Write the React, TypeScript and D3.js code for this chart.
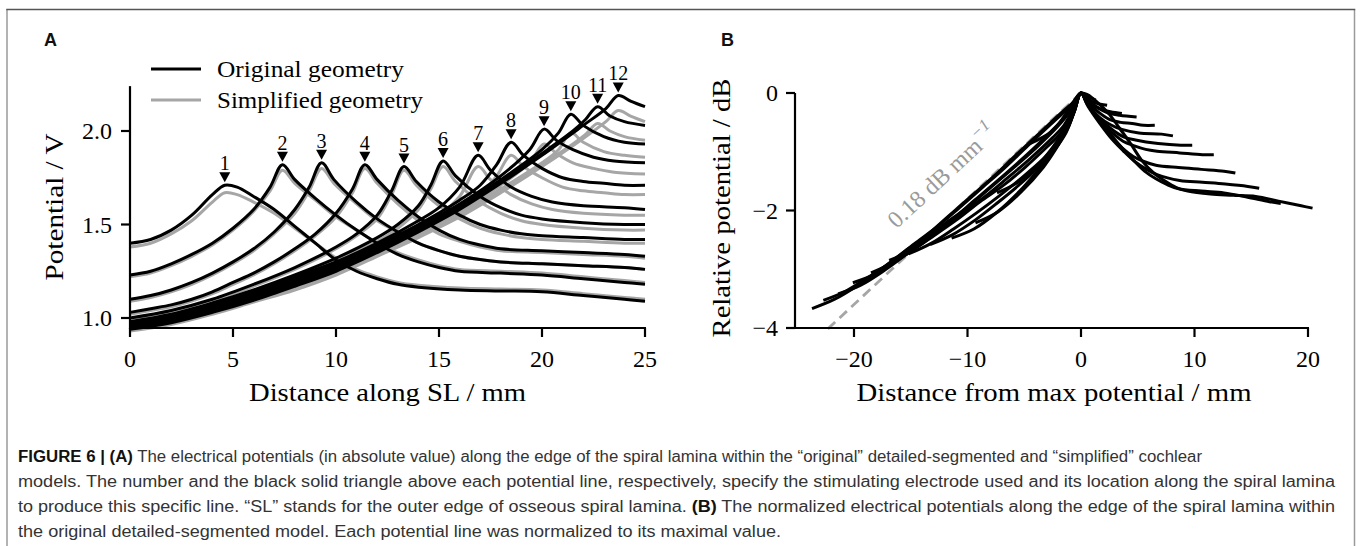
import React from 'react';
import * as d3 from 'd3';

const W = 1360;
const H = 546;

// ---------- Panel A data: potential (V) along SL (mm) ----------
const electrodeLabels = ['1', '2', '3', '4', '5', '6', '7', '8', '9', '10', '11', '12'];
const peakX = [4.6, 7.4, 9.3, 11.4, 13.3, 15.2, 16.9, 18.5, 20.1, 21.4, 22.7, 23.7];
const peakV = [1.71, 1.82, 1.83, 1.82, 1.81, 1.84, 1.87, 1.94, 2.01, 2.09, 2.13, 2.19];

const a1X = [0, 1, 2, 3, 4, 4.6, 5.2, 6, 7, 8, 9, 10, 11, 12, 13, 14, 16, 18, 20, 22, 24, 25];
const a1Orig = [1.40, 1.42, 1.47, 1.55, 1.66, 1.71, 1.70, 1.65, 1.58, 1.49, 1.40, 1.31, 1.25, 1.21, 1.18, 1.165, 1.15, 1.145, 1.14, 1.12, 1.10, 1.09];
const a1Simp = [1.38, 1.40, 1.45, 1.52, 1.62, 1.67, 1.66, 1.62, 1.56, 1.48, 1.40, 1.32, 1.26, 1.22, 1.19, 1.175, 1.16, 1.155, 1.15, 1.13, 1.11, 1.10];

const a2X = [0, 1, 2, 3, 4, 5, 6, 6.8, 7.4, 8, 9, 10, 11, 12, 13, 14, 15, 16, 18, 20, 22, 24, 25];
const a2Orig = [1.23, 1.25, 1.29, 1.34, 1.40, 1.48, 1.58, 1.70, 1.82, 1.74, 1.64, 1.55, 1.47, 1.40, 1.34, 1.30, 1.27, 1.25, 1.24, 1.23, 1.21, 1.19, 1.18];
const a2Simp = [1.22, 1.24, 1.28, 1.33, 1.39, 1.47, 1.57, 1.68, 1.79, 1.72, 1.63, 1.54, 1.47, 1.40, 1.35, 1.31, 1.28, 1.26, 1.25, 1.24, 1.22, 1.20, 1.19];

const a3X = [0, 1, 2, 3, 4, 5, 6, 7, 8, 8.7, 9.3, 9.9, 11, 12, 13, 14, 15, 16, 18, 20, 22, 24, 25];
const a3Orig = [1.10, 1.12, 1.15, 1.19, 1.24, 1.30, 1.37, 1.46, 1.58, 1.70, 1.83, 1.74, 1.62, 1.53, 1.46, 1.40, 1.36, 1.33, 1.30, 1.29, 1.28, 1.27, 1.26];
const a3Simp = [1.09, 1.11, 1.14, 1.18, 1.23, 1.29, 1.36, 1.45, 1.56, 1.68, 1.80, 1.72, 1.61, 1.52, 1.46, 1.40, 1.36, 1.33, 1.30, 1.29, 1.28, 1.27, 1.26];

const a4X = [0, 1, 2, 3, 4, 5, 6, 7, 8, 9, 10, 10.8, 11.4, 12, 13, 14, 15, 16, 17, 18, 20, 22, 24, 25];
const a4Orig = [1.03, 1.05, 1.07, 1.10, 1.14, 1.19, 1.24, 1.30, 1.37, 1.45, 1.56, 1.69, 1.82, 1.74, 1.63, 1.54, 1.47, 1.42, 1.39, 1.37, 1.36, 1.35, 1.34, 1.33];
const a4Simp = [1.02, 1.04, 1.06, 1.09, 1.13, 1.18, 1.23, 1.29, 1.36, 1.44, 1.54, 1.67, 1.80, 1.72, 1.61, 1.52, 1.45, 1.41, 1.38, 1.36, 1.35, 1.34, 1.33, 1.32];

const a5X = [0, 2, 4, 6, 8, 10, 11, 12, 12.7, 13.3, 13.9, 15, 16, 17, 18, 19, 20, 22, 24, 25];
const a5Orig = [1.00, 1.04, 1.10, 1.18, 1.27, 1.38, 1.45, 1.55, 1.68, 1.81, 1.73, 1.62, 1.55, 1.50, 1.47, 1.45, 1.44, 1.43, 1.42, 1.42];
const a5Simp = [0.99, 1.03, 1.09, 1.17, 1.26, 1.37, 1.44, 1.53, 1.66, 1.79, 1.71, 1.60, 1.53, 1.48, 1.45, 1.43, 1.42, 1.41, 1.40, 1.40];

const a6X = [0, 2, 4, 6, 8, 10, 12, 13, 14, 14.6, 15.2, 15.8, 17, 18, 19, 20, 22, 24, 25];
const a6Orig = [0.98, 1.02, 1.08, 1.15, 1.23, 1.32, 1.43, 1.50, 1.60, 1.71, 1.84, 1.76, 1.65, 1.59, 1.55, 1.53, 1.51, 1.50, 1.50];
const a6Simp = [0.97, 1.01, 1.07, 1.14, 1.22, 1.31, 1.41, 1.48, 1.58, 1.69, 1.81, 1.73, 1.62, 1.56, 1.52, 1.50, 1.48, 1.47, 1.47];

const a7X = [0, 2, 4, 6, 8, 10, 12, 14, 15, 16, 16.9, 17.5, 18.5, 19.5, 20.5, 22, 24, 25];
const a7Orig = [0.97, 1.01, 1.07, 1.14, 1.22, 1.30, 1.40, 1.52, 1.59, 1.70, 1.87, 1.79, 1.70, 1.65, 1.62, 1.60, 1.59, 1.58];
const a7Simp = [0.96, 1.00, 1.06, 1.13, 1.21, 1.28, 1.38, 1.49, 1.55, 1.65, 1.81, 1.74, 1.66, 1.61, 1.58, 1.56, 1.55, 1.55];

const a8X = [0, 2, 4, 6, 8, 10, 12, 14, 16, 17, 17.8, 18.5, 19.1, 20, 21, 22, 23, 24, 25];
const a8Orig = [0.96, 1.00, 1.06, 1.13, 1.21, 1.29, 1.39, 1.50, 1.63, 1.71, 1.82, 1.94, 1.87, 1.80, 1.75, 1.73, 1.72, 1.71, 1.71];
const a8Simp = [0.95, 0.99, 1.05, 1.12, 1.20, 1.27, 1.37, 1.47, 1.59, 1.66, 1.76, 1.87, 1.81, 1.75, 1.70, 1.68, 1.67, 1.66, 1.66];

const a9X = [0, 2, 4, 6, 8, 10, 12, 14, 16, 18, 19.4, 20.1, 20.7, 21.5, 22.5, 23.5, 25];
const a9Orig = [0.955, 0.99, 1.05, 1.12, 1.20, 1.28, 1.38, 1.49, 1.61, 1.76, 1.90, 2.01, 1.95, 1.90, 1.86, 1.84, 1.83];
const a9Simp = [0.945, 0.98, 1.04, 1.11, 1.18, 1.26, 1.36, 1.46, 1.57, 1.71, 1.83, 1.93, 1.88, 1.83, 1.80, 1.78, 1.77];

const a10X = [0, 2, 4, 6, 8, 10, 12, 14, 16, 18, 20, 20.8, 21.4, 22, 23, 24, 25];
const a10Orig = [0.95, 0.985, 1.04, 1.11, 1.19, 1.27, 1.37, 1.48, 1.60, 1.74, 1.90, 1.99, 2.09, 2.03, 1.97, 1.94, 1.93];
const a10Simp = [0.94, 0.975, 1.03, 1.10, 1.17, 1.25, 1.35, 1.45, 1.56, 1.69, 1.83, 1.90, 1.99, 1.94, 1.89, 1.87, 1.86];

const a11X = [0, 2, 4, 6, 8, 10, 12, 14, 16, 18, 20, 21.5, 22.1, 22.7, 23.3, 24, 25];
const a11Orig = [0.945, 0.98, 1.035, 1.10, 1.18, 1.26, 1.36, 1.47, 1.59, 1.73, 1.88, 2.00, 2.06, 2.13, 2.08, 2.05, 2.03];
const a11Simp = [0.935, 0.97, 1.025, 1.09, 1.16, 1.24, 1.34, 1.44, 1.55, 1.68, 1.82, 1.93, 1.98, 2.04, 2.00, 1.97, 1.95];

const a12X = [0, 2, 4, 6, 8, 10, 12, 14, 16, 18, 20, 22, 23.1, 23.7, 24.3, 25];
const a12Orig = [0.94, 0.975, 1.03, 1.095, 1.17, 1.25, 1.35, 1.46, 1.58, 1.72, 1.87, 2.03, 2.12, 2.19, 2.16, 2.13];
const a12Simp = [0.93, 0.965, 1.02, 1.085, 1.15, 1.23, 1.33, 1.43, 1.54, 1.67, 1.81, 1.96, 2.05, 2.11, 2.08, 2.05];

// ---------- Panel B data: relative potential (dB) vs distance from max (mm) ----------
const b1X = [-4.6, -2.6, -1.6, -0.6, 0, 0.6, 1.4, 2.4, 3.4, 4.4, 5.4, 6.4, 7.4, 8.4, 9.4, 11.4, 13.4, 15.4, 17.4, 19.4, 20.4];
const b1Y = [-0.87, -0.66, -0.43, -0.13, 0, -0.03, -0.15, -0.34, -0.60, -0.87, -1.16, -1.36, -1.50, -1.61, -1.67, -1.72, -1.74, -1.76, -1.84, -1.92, -1.96];
const b2X = [-7.4, -5.4, -3.4, -2.4, -1.4, -0.6, 0, 0.6, 1.6, 2.6, 3.6, 4.6, 5.6, 6.6, 7.6, 8.6, 10.6, 12.6, 14.6, 16.6, 17.6];
const b2Y = [-1.70, -1.50, -1.14, -0.90, -0.61, -0.30, 0, -0.20, -0.45, -0.70, -0.93, -1.14, -1.33, -1.46, -1.56, -1.63, -1.67, -1.70, -1.77, -1.85, -1.88];
const b3X = [-9.3, -7.3, -5.3, -3.3, -2.3, -1.3, -0.6, 0, 0.6, 1.7, 2.7, 3.7, 4.7, 5.7, 6.7, 8.7, 10.7, 12.7, 14.7, 15.7];
const b3Y = [-2.21, -2.02, -1.69, -1.26, -0.98, -0.64, -0.32, 0, -0.22, -0.53, -0.78, -0.98, -1.16, -1.29, -1.39, -1.49, -1.52, -1.55, -1.59, -1.62];
const b4X = [-11.4, -9.4, -7.4, -5.4, -3.4, -2.4, -1.4, -0.6, 0, 0.6, 1.6, 2.6, 3.6, 4.6, 5.6, 6.6, 8.6, 10.6, 12.6, 13.6];
const b4Y = [-2.47, -2.31, -2.03, -1.67, -1.23, -0.99, -0.67, -0.32, 0, -0.20, -0.48, -0.73, -0.93, -1.08, -1.17, -1.23, -1.27, -1.30, -1.33, -1.36];
const b5X = [-13.3, -11.3, -9.3, -7.3, -5.3, -3.3, -2.3, -1.3, -0.6, 0, 0.6, 1.7, 2.7, 3.7, 4.7, 5.7, 6.7, 8.7, 10.7, 11.7];
const b5Y = [-2.58, -2.41, -2.16, -1.86, -1.54, -1.18, -0.96, -0.67, -0.32, 0, -0.20, -0.48, -0.67, -0.82, -0.90, -0.96, -0.99, -1.02, -1.05, -1.05];
const b6X = [-15.2, -13.2, -11.2, -9.2, -7.2, -5.2, -3.2, -2.2, -1.2, -0.6, 0, 0.6, 1.8, 2.8, 3.8, 4.8, 6.8, 8.8, 9.8];
const b6Y = [-2.74, -2.56, -2.31, -2.04, -1.75, -1.44, -1.10, -0.89, -0.61, -0.32, 0, -0.19, -0.47, -0.63, -0.75, -0.80, -0.86, -0.89, -0.89];
const b7X = [-16.9, -14.9, -12.9, -10.9, -8.9, -6.9, -4.9, -2.9, -1.9, -0.9, 0, 0.6, 1.6, 2.6, 3.6, 5.1, 7.1, 8.1];
const b7Y = [-2.85, -2.68, -2.42, -2.15, -1.85, -1.58, -1.26, -0.90, -0.71, -0.41, 0, -0.19, -0.41, -0.54, -0.62, -0.68, -0.70, -0.73];
const b8X = [-18.5, -16.5, -14.5, -12.5, -10.5, -8.5, -6.5, -4.5, -2.5, -1.5, -0.7, 0, 0.6, 1.5, 2.5, 3.5, 4.5, 5.5, 6.5];
const b8Y = [-3.06, -2.88, -2.63, -2.35, -2.05, -1.77, -1.45, -1.12, -0.76, -0.55, -0.28, 0, -0.16, -0.32, -0.45, -0.50, -0.52, -0.55, -0.55];
const b9X = [-20.1, -18.1, -16.1, -14.1, -12.1, -10.1, -8.1, -6.1, -4.1, -2.1, -0.7, 0, 0.6, 1.4, 2.4, 3.4, 4.9];
const b9Y = [-3.23, -3.08, -2.82, -2.54, -2.24, -1.96, -1.63, -1.30, -0.96, -0.58, -0.24, 0, -0.13, -0.24, -0.34, -0.38, -0.41];
const b10X = [-21.4, -19.4, -17.4, -15.4, -13.4, -11.4, -9.4, -7.4, -5.4, -3.4, -1.4, -0.6, 0, 0.6, 1.6, 2.6, 3.6];
const b10Y = [-3.42, -3.27, -3.03, -2.75, -2.45, -2.16, -1.83, -1.50, -1.16, -0.80, -0.41, -0.21, 0, -0.13, -0.26, -0.32, -0.35];
const b11X = [-22.7, -20.7, -18.7, -16.7, -14.7, -12.7, -10.7, -8.7, -6.7, -4.7, -2.7, -1.2, -0.6, 0, 0.6, 1.3, 2.3];
const b11Y = [-3.53, -3.37, -3.13, -2.87, -2.57, -2.28, -1.95, -1.61, -1.27, -0.90, -0.54, -0.27, -0.15, 0, -0.10, -0.17, -0.21];
const b12X = [-23.7, -21.7, -19.7, -17.7, -15.7, -13.7, -11.7, -9.7, -7.7, -5.7, -3.7, -1.7, -0.6, 0, 0.6, 1.3];
const b12Y = [-3.67, -3.51, -3.28, -3.01, -2.72, -2.44, -2.10, -1.76, -1.42, -1.05, -0.69, -0.33, -0.14, 0, -0.06, -0.12];

const slopeDbPerMm = 0.18;
const slopeLineX = [0, -22.5];

// ---------- ticks & labels ----------
const ticksAX = [0, 5, 10, 15, 20, 25];
const ticksAY = [1.0, 1.5, 2.0];
const ticksBX = [-20, -10, 0, 10, 20];
const ticksBY = [0, -2, -4];
const legendLabels = ['Original geometry', 'Simplified geometry'];
const legendWidths = [187, 206];

const captionLines = [
  [{ b: true, t: 'FIGURE 6 | (A)' }, { b: false, t: ' The electrical potentials (in absolute value) along the edge of the spiral lamina within the \u201Coriginal\u201D detailed-segmented and \u201Csimplified\u201D cochlear' }],
  [{ b: false, t: 'models. The number and the black solid triangle above each potential line, respectively, specify the stimulating electrode used and its location along the spiral lamina' }],
  [{ b: false, t: 'to produce this specific line. \u201CSL\u201D stands for the outer edge of osseous spiral lamina. ' }, { b: true, t: '(B)' }, { b: false, t: ' The normalized electrical potentials along the edge of the spiral lamina within' }],
  [{ b: false, t: 'the original detailed-segmented model. Each potential line was normalized to its maximal value.' }],
];
const captionWidths = [1184, 1317, 1317, 763];

const aX = [a1X, a2X, a3X, a4X, a5X, a6X, a7X, a8X, a9X, a10X, a11X, a12X];
const aOrig = [a1Orig, a2Orig, a3Orig, a4Orig, a5Orig, a6Orig, a7Orig, a8Orig, a9Orig, a10Orig, a11Orig, a12Orig];
const aSimp = [a1Simp, a2Simp, a3Simp, a4Simp, a5Simp, a6Simp, a7Simp, a8Simp, a9Simp, a10Simp, a11Simp, a12Simp];
const bX = [b1X, b2X, b3X, b4X, b5X, b6X, b7X, b8X, b9X, b10X, b11X, b12X];
const bY = [b1Y, b2Y, b3Y, b4Y, b5Y, b6Y, b7Y, b8Y, b9Y, b10Y, b11Y, b12Y];

const SERIF = '"Liberation Serif", "DejaVu Serif", serif';
const SANS = '"Liberation Sans", Arial, sans-serif';
const GRAY = '#a6a6a6';

export default function App() {
  // scales
  const xA = d3.scaleLinear().domain([0, 25]).range([130, 645]);
  const yA = d3.scaleLinear().domain([1.0, 2.0]).range([318, 131]);
  const xB = d3.scaleLinear().domain([-20, 20]).range([854, 1308]);
  const yB = d3.scaleLinear().domain([-4, 0]).range([328, 93]);

  const aBottom = 328;
  const aTop = yA(2.24);
  const bLeft = 795;

  const lineA = d3
    .line<[number, number]>()
    .x((d) => xA(d[0]))
    .y((d) => yA(d[1]))
    .curve(d3.curveCatmullRom.alpha(0.5));
  const lineB = d3
    .line<[number, number]>()
    .x((d) => xB(d[0]))
    .y((d) => yB(d[1]))
    .curve(d3.curveCatmullRom.alpha(0.5));

  const zip = (xs: number[], ys: number[]) => xs.map((x, i) => [x, ys[i]] as [number, number]);

  // slope annotation line
  const slopePts = slopeLineX.map((x) => [x, x * slopeDbPerMm] as [number, number]);
  const p0 = [xB(slopePts[0][0]), yB(slopePts[0][1])];
  const p1 = [xB(slopePts[1][0]), yB(slopePts[1][1])];
  const ang = (Math.atan2(p0[1] - p1[1], p0[0] - p1[0]) * 180) / Math.PI;
  const annX = -10.2;
  const annPt = [xB(annX), yB(annX * slopeDbPerMm)];
  const nrm = ((ang - 90) * Math.PI) / 180;
  const annPos = [annPt[0] + Math.cos(nrm) * 34, annPt[1] + Math.sin(nrm) * 34];

  const axisColor = '#000';
  const fmtB = (t: number) => (t < 0 ? `\u2212${Math.abs(t)}` : `${t}`);

  return (
    <svg
      width={W}
      height={H}
      viewBox={`0 0 ${W} ${H}`}
      style={{ position: 'absolute', left: 0, top: 0, background: '#fff' }}
    >
      <rect x={0} y={0} width={W} height={H} fill="#fff" />
      {/* frame */}
      <path d={`M7,${H + 2} L7,9.5`} fill="none" stroke="#9a9a9a" strokeWidth={1.5} />
      <path d={`M1354.5,${H + 2} L1354.5,9.5`} fill="none" stroke="#9a9a9a" strokeWidth={1.5} />
      <path d={`M6.25,9.5 L1355.25,9.5`} fill="none" stroke="#555" strokeWidth={1.5} />

      {/* panel letters */}
      <text x={44} y={46} fontFamily={SANS} fontWeight="bold" fontSize={18} fill="#111">A</text>
      <text x={721} y={46} fontFamily={SANS} fontWeight="bold" fontSize={18} fill="#111">B</text>

      {/* ===== Panel A ===== */}
      <g>
        {aSimp.map((ys, i) => (
          <path key={`s${i}`} d={lineA(zip(aX[i], ys)) || ''} fill="none" stroke={GRAY} strokeWidth={3} strokeLinejoin="round" />
        ))}
        {aOrig.map((ys, i) => (
          <path key={`o${i}`} d={lineA(zip(aX[i], ys)) || ''} fill="none" stroke="#000" strokeWidth={3} strokeLinejoin="round" />
        ))}
        {peakX.map((px, i) => {
          const cx = xA(px);
          const py = yA(peakV[i]);
          return (
            <g key={`m${i}`}>
              <path d={`M${cx - 5.5},${py - 13} L${cx + 5.5},${py - 13} L${cx},${py - 3} Z`} fill="#000" />
              <text x={cx} y={py - 15} textAnchor="middle" fontFamily={SERIF} fontSize={20} fill="#000">
                {electrodeLabels[i]}
              </text>
            </g>
          );
        })}
        {/* axes */}
        <line x1={xA(0)} x2={xA(0)} y1={aTop} y2={aBottom + 1} stroke={axisColor} strokeWidth={2.2} />
        <line x1={xA(0) - 1} x2={xA(25) + 1} y1={aBottom} y2={aBottom} stroke={axisColor} strokeWidth={2.2} />
        {ticksAY.map((t) => (
          <g key={`ay${t}`}>
            <line x1={xA(0) - 9} x2={xA(0)} y1={yA(t)} y2={yA(t)} stroke={axisColor} strokeWidth={2.2} />
            <text x={xA(0) - 18} y={yA(t) + 8} textAnchor="end" fontFamily={SERIF} fontSize={24} fill="#000">
              {t.toFixed(1)}
            </text>
          </g>
        ))}
        {ticksAX.map((t) => (
          <g key={`ax${t}`}>
            <line x1={xA(t)} x2={xA(t)} y1={aBottom} y2={aBottom + 9} stroke={axisColor} strokeWidth={2.2} />
            <text x={xA(t)} y={aBottom + 39} textAnchor="middle" fontFamily={SERIF} fontSize={24} fill="#000">
              {t}
            </text>
          </g>
        ))}
        <text
          x={(xA(0) + xA(25)) / 2}
          y={aBottom + 73}
          textAnchor="middle"
          fontFamily={SERIF}
          fontSize={25}
          fill="#000"
          textLength={277}
          lengthAdjust="spacingAndGlyphs"
        >
          Distance along SL / mm
        </text>
        <text
          transform={`translate(${63},${207}) rotate(-90)`}
          textAnchor="middle"
          fontFamily={SERIF}
          fontSize={25}
          fill="#000"
          textLength={147}
          lengthAdjust="spacingAndGlyphs"
        >
          Potential / V
        </text>
        {/* legend */}
        {legendLabels.map((lab, i) => (
          <g key={lab}>
            <line x1={151} x2={201} y1={69 + i * 31} y2={69 + i * 31} stroke={i === 0 ? '#000' : GRAY} strokeWidth={3.2} />
            <text
              x={217}
              y={77 + i * 31}
              fontFamily={SERIF}
              fontSize={23}
              fill="#000"
              textLength={legendWidths[i]}
              lengthAdjust="spacingAndGlyphs"
            >
              {lab}
            </text>
          </g>
        ))}
      </g>

      {/* ===== Panel B ===== */}
      <g>
        <path
          d={d3.line()(slopePts.map((p) => [xB(p[0]), yB(Math.max(p[1], -4.05))] as [number, number])) || ''}
          fill="none"
          stroke={GRAY}
          strokeWidth={2.8}
          strokeDasharray="10,6"
        />
        {bY.map((ys, i) => (
          <path key={`b${i}`} d={lineB(zip(bX[i], ys)) || ''} fill="none" stroke="#000" strokeWidth={3} strokeLinejoin="round" />
        ))}
        <text
          transform={`translate(${annPos[0]},${annPos[1]}) rotate(${ang})`}
          textAnchor="middle"
          dominantBaseline="central"
          fontFamily={SERIF}
          fontSize={24}
          fill="#9a9a9a"
        >
          0.18 dB mm
          <tspan dy={-9} fontSize={17} fontStyle="italic">{'\u22121'}</tspan>
        </text>
        <line x1={bLeft} x2={bLeft} y1={yB(0)} y2={yB(-4) + 1} stroke={axisColor} strokeWidth={2.2} />
        <line x1={bLeft - 1} x2={xB(20) + 1} y1={yB(-4)} y2={yB(-4)} stroke={axisColor} strokeWidth={2.2} />
        {ticksBY.map((t) => (
          <g key={`by${t}`}>
            <line x1={bLeft - 9} x2={bLeft} y1={yB(t)} y2={yB(t)} stroke={axisColor} strokeWidth={2.2} />
            <text x={bLeft - 17} y={yB(t) + 8} textAnchor="end" fontFamily={SERIF} fontSize={24} fill="#000">
              {fmtB(t)}
            </text>
          </g>
        ))}
        {ticksBX.map((t) => (
          <g key={`bx${t}`}>
            <line x1={xB(t)} x2={xB(t)} y1={yB(-4)} y2={yB(-4) + 9} stroke={axisColor} strokeWidth={2.2} />
            <text x={xB(t)} y={yB(-4) + 39} textAnchor="middle" fontFamily={SERIF} fontSize={24} fill="#000">
              {fmtB(t)}
            </text>
          </g>
        ))}
        <text
          x={1054}
          y={yB(-4) + 73}
          textAnchor="middle"
          fontFamily={SERIF}
          fontSize={25}
          fill="#000"
          textLength={395}
          lengthAdjust="spacingAndGlyphs"
        >
          Distance from max potential / mm
        </text>
        <text
          transform={`translate(${730},${208}) rotate(-90)`}
          textAnchor="middle"
          fontFamily={SERIF}
          fontSize={25}
          fill="#000"
          textLength={259}
          lengthAdjust="spacingAndGlyphs"
        >
          Relative potential / dB
        </text>
      </g>

      {/* caption */}
      {captionLines.map((segs, i) => (
        <text
          key={`cap${i}`}
          x={18}
          y={462 + i * 25}
          fontFamily={SANS}
          fontSize={16}
          fill="#333"
          textLength={captionWidths[i]}
          lengthAdjust="spacingAndGlyphs"
        >
          {segs.map((s, j) => (
            <tspan key={j} fontWeight={s.b ? 'bold' : 'normal'} fill={s.b ? '#111' : '#333'}>
              {s.t}
            </tspan>
          ))}
        </text>
      ))}
    </svg>
  );
}
